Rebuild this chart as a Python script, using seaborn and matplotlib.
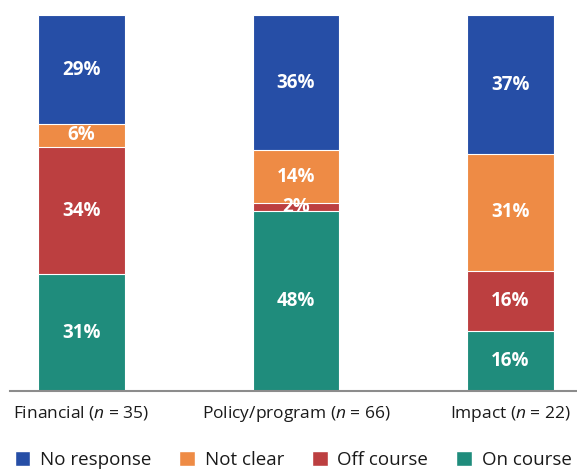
import numpy as np
import pandas as pd
import seaborn as sns
import matplotlib.pyplot as plt
from matplotlib.patches import Patch

sns.set_theme(style="white")
plt.rcParams['font.family'] = ['Open Sans', 'DejaVu Sans']
plt.rcParams['mathtext.fontset'] = 'custom'
plt.rcParams['mathtext.it'] = 'Open Sans:italic'
plt.rcParams['mathtext.rm'] = 'Open Sans'

categories = ['Financial ($n$ = 35)', 'Policy/program ($n$ = 66)', 'Impact ($n$ = 22)']
series = ['On course', 'Off course', 'Not clear', 'No response']
on_course = [31, 48, 16]
off_course = [34, 2, 16]
not_clear = [6, 14, 31]
no_response = [29, 36, 37]
colors = {'On course': '#1f8c7c', 'Off course': '#bc3f40',
          'Not clear': '#ee8b45', 'No response': '#264ea6'}

df = pd.DataFrame({'category': categories, 'On course': on_course,
                   'Off course': off_course, 'Not clear': not_clear,
                   'No response': no_response})
cum = df[series].cumsum(axis=1)

fig = plt.figure(figsize=(5.77, 4.72), dpi=100)
ax = fig.add_axes([10 / 577, 81 / 472, 567 / 577, 376 / 472])

# draw cumulative bars from tallest to shortest so they stack
for s in reversed(series):
    sns.barplot(x=df['category'], y=cum[s], color=colors[s], width=0.405,
                saturation=1, edgecolor='white', linewidth=0.8, ax=ax)

for s in series:
    for i in range(len(categories)):
        val = df[s].iloc[i]
        mid = cum[s].iloc[i] - val / 2
        ax.text(i, mid, f'{val}%', ha='center', va='center', color='white',
                fontsize=13.5, fontweight='bold')

ax.set_xlim(-0.333, 2.31)
ax.set_ylim(0, 100)
ax.set_yticks([])
ax.set_xlabel('')
ax.set_ylabel('')
for side in ['top', 'right', 'left']:
    ax.spines[side].set_visible(False)
ax.spines['bottom'].set_color('#8c8c8c')
ax.spines['bottom'].set_linewidth(1.5)
ax.tick_params(axis='x', length=0, pad=9, labelsize=12.5, colors='#1a1a1a')

handles = [Patch(facecolor=colors[s], label=s) for s in ['No response', 'Not clear', 'Off course', 'On course']]
fig.legend(handles=handles, loc='center', bbox_to_anchor=(0.508, 12 / 472), ncol=4,
           frameon=False, fontsize=13.5, handlelength=0.85, handleheight=0.85,
           handletextpad=0.5, columnspacing=1.5, labelcolor='#1a1a1a',
           borderpad=0)

fig.savefig('out.png', dpi=100)
